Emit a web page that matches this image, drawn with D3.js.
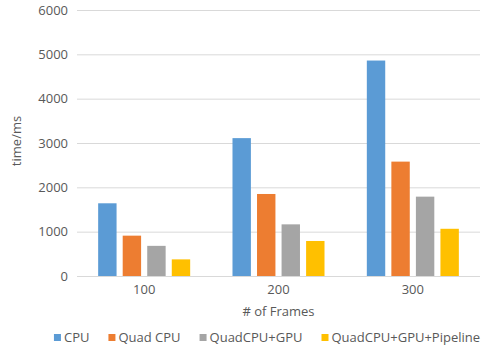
<!DOCTYPE html>
<html lang="en">
  <head>
    <meta charset="utf-8">
    <title>Frames timing</title>
    <script src="https://d3js.org/d3.v7.min.js"></script>
    <style>
      body { margin: 0; background: #fff; }
      text { font-family: "Open Sans", sans-serif; fill: #595959; }
      .grid line { stroke: #d9d9d9; stroke-width: 1; }
      .grid .domain, .xaxis .domain { display: none; }
      .grid text, .xaxis text { font-size: 13px; fill: #595959; }
      .label { font-size: 13px; }
      .legend text { font-size: 13px; }
    </style>
  </head>
  <body>
    <div id="chart"></div>
    <script>
      const w = 490;
      const h = 349;

      const frames = ["100", "200", "300"];
      const seriesNames = ["CPU", "Quad CPU", "QuadCPU+GPU", "QuadCPU+GPU+Pipeline"];
      const seriesColors = ["#5b9bd5", "#ed7d31", "#a5a5a5", "#ffc000"];
      // one array per series, in frame order
      const cpu = [1640, 3110, 4860];
      const quadCpu = [910, 1850, 2580];
      const quadGpu = [680, 1165, 1790];
      const quadGpuPipe = [375, 790, 1065];
      const yTicks = [0, 1000, 2000, 3000, 4000, 5000, 6000];

      const values = [cpu, quadCpu, quadGpu, quadGpuPipe];

      const plotLeft = 77, plotRight = 480, plotTop = 10, plotBottom = 276;

      const svg = d3.select("#chart")
        .append("svg")
        .attr("width", w)
        .attr("height", h);

      const y = d3.scaleLinear()
        .domain([0, 6000])
        .range([plotBottom, plotTop]);

      const x0 = d3.scaleBand()
        .domain(frames)
        .range([plotLeft, plotRight])
        .paddingInner(0.315)
        .paddingOuter(0.1575);

      const x1 = d3.scaleBand()
        .domain(seriesNames)
        .range([0, x0.bandwidth()])
        .paddingInner(0.25);

      const color = d3.scaleOrdinal()
        .domain(seriesNames)
        .range(seriesColors);

      // gridlines + y labels
      svg.append("g")
        .attr("class", "grid")
        .attr("transform", `translate(${plotLeft},0)`)
        .call(d3.axisLeft(y)
          .tickValues(yTicks)
          .tickFormat(d3.format("d"))
          .tickSize(-(plotRight - plotLeft))
          .tickPadding(9));

      // bars
      const rows = [];
      frames.forEach((f, i) => {
        seriesNames.forEach((s, j) => rows.push({frame: f, series: s, value: values[j][i]}));
      });

      svg.selectAll(".bar")
        .data(rows)
        .enter()
        .append("rect")
        .attr("class", "bar")
        .attr("x", d => x0(d.frame) + x1(d.series))
        .attr("y", d => y(d.value))
        .attr("width", x1.bandwidth())
        .attr("height", d => plotBottom - y(d.value))
        .style("fill", d => color(d.series));

      // x axis labels
      svg.append("g")
        .attr("class", "xaxis")
        .attr("transform", `translate(0,${plotBottom})`)
        .call(d3.axisBottom(x0).tickSize(0).tickPadding(9));

      svg.append("text")
        .attr("class", "label")
        .attr("x", (plotLeft + plotRight) / 2)
        .attr("y", 316)
        .attr("text-anchor", "middle")
        .text("# of Frames");

      svg.append("text")
        .attr("class", "label")
        .attr("transform", `translate(21,${(plotTop + plotBottom) / 2 - 2}) rotate(-90)`)
        .attr("text-anchor", "middle")
        .text("time/ms");

      // legend, laid out by text width and centred
      const legend = svg.append("g").attr("class", "legend");
      const items = legend.selectAll("g")
        .data(seriesNames)
        .enter()
        .append("g");

      items.append("rect")
        .attr("y", 334)
        .attr("width", 7)
        .attr("height", 7)
        .style("fill", d => color(d));

      items.append("text")
        .attr("x", 10)
        .attr("y", 342)
        .text(d => d);

      let cursor = 0;
      items.each(function() {
        const g = d3.select(this);
        g.attr("transform", `translate(${cursor},0)`);
        cursor += 10 + g.select("text").node().getComputedTextLength() + 19;
      });
      const total = cursor - 19;
      legend.attr("transform", `translate(${267 - total / 2},0)`);
    </script>
  </body>
</html>
